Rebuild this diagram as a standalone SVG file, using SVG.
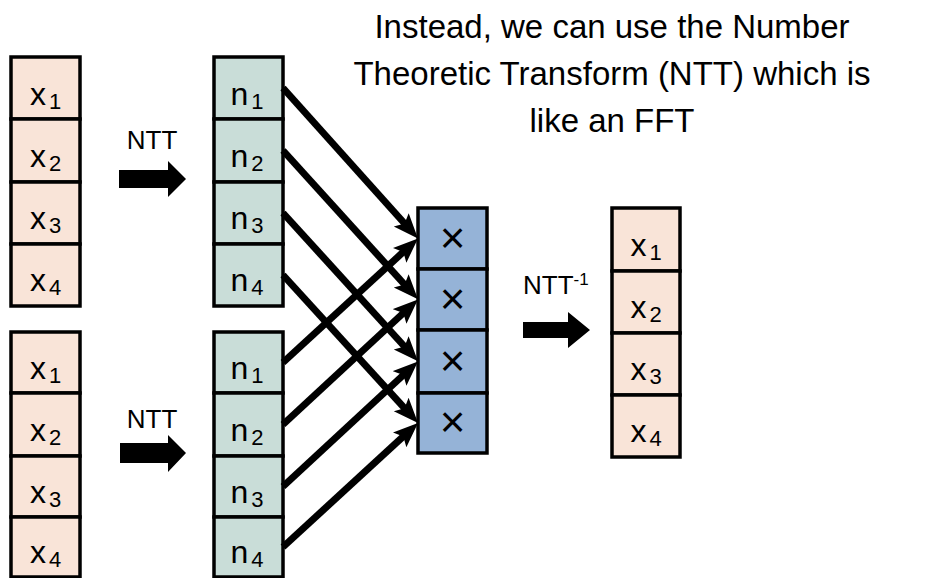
<svg xmlns="http://www.w3.org/2000/svg" width="943" height="578" viewBox="0 0 943 578">
<style>
text{font-family:"Liberation Sans",Arial,sans-serif;fill:#000}
.x{fill:#F9E4D8;stroke:#000;stroke-width:3.5}
.n{fill:#C9DDD8;stroke:#000;stroke-width:3.5}
.m{fill:#95B3D7;stroke:#000;stroke-width:3.5}
.lbl{font-size:32px;text-anchor:middle}
.sub{font-size:22px}
.mul{font-size:44px;text-anchor:middle}
.title{font-size:33px;text-anchor:middle}
.conn{stroke:#000;stroke-width:7;fill:none;marker-end:url(#ah)}
.blk{fill:#000}
</style>
<defs>
<marker id="ah" markerUnits="userSpaceOnUse" markerWidth="28" markerHeight="22" refX="11" refY="10" orient="auto">
<path d="M0,0 L25,10 L0,20 L5,10 z" fill="#000"/>
</marker>
</defs>

<g id="title">
<text class="title" x="612" y="38">Instead, we can use the Number</text>
<text class="title" x="612" y="85">Theoretic Transform (NTT) which is</text>
<text class="title" x="612" y="132">like an FFT</text>
</g>

<g id="inputA">
<g id="inputA-x1"><rect class="x" x="11" y="57" width="69" height="62"/><text class="lbl" x="45.5" y="105">x<tspan class="sub" dx="3" dy="4">1</tspan></text></g>
<g id="inputA-x2"><rect class="x" x="11" y="119" width="69" height="63"/><text class="lbl" x="45.5" y="167">x<tspan class="sub" dx="3" dy="4">2</tspan></text></g>
<g id="inputA-x3"><rect class="x" x="11" y="182" width="69" height="62"/><text class="lbl" x="45.5" y="229">x<tspan class="sub" dx="3" dy="4">3</tspan></text></g>
<g id="inputA-x4"><rect class="x" x="11" y="244" width="69" height="62"/><text class="lbl" x="45.5" y="291">x<tspan class="sub" dx="3" dy="4">4</tspan></text></g>
</g>

<g id="inputB">
<g id="inputB-x1"><rect class="x" x="11" y="332" width="69" height="61"/><text class="lbl" x="45.5" y="379">x<tspan class="sub" dx="3" dy="4">1</tspan></text></g>
<g id="inputB-x2"><rect class="x" x="11" y="393" width="69" height="63"/><text class="lbl" x="45.5" y="441">x<tspan class="sub" dx="3" dy="4">2</tspan></text></g>
<g id="inputB-x3"><rect class="x" x="11" y="456" width="69" height="61"/><text class="lbl" x="45.5" y="503">x<tspan class="sub" dx="3" dy="4">3</tspan></text></g>
<g id="inputB-x4"><rect class="x" x="11" y="517" width="69" height="60"/><text class="lbl" x="45.5" y="563">x<tspan class="sub" dx="3" dy="4">4</tspan></text></g>
</g>

<g id="nttA">
<g id="nttA-n1"><rect class="n" x="214" y="57" width="69" height="62"/><text class="lbl" x="247" y="105">n<tspan class="sub" dx="3" dy="4">1</tspan></text></g>
<g id="nttA-n2"><rect class="n" x="214" y="119" width="69" height="63"/><text class="lbl" x="247" y="167">n<tspan class="sub" dx="3" dy="4">2</tspan></text></g>
<g id="nttA-n3"><rect class="n" x="214" y="182" width="69" height="62"/><text class="lbl" x="247" y="229">n<tspan class="sub" dx="3" dy="4">3</tspan></text></g>
<g id="nttA-n4"><rect class="n" x="214" y="244" width="69" height="62"/><text class="lbl" x="247" y="291">n<tspan class="sub" dx="3" dy="4">4</tspan></text></g>
</g>

<g id="nttB">
<g id="nttB-n1"><rect class="n" x="214" y="332" width="69" height="61"/><text class="lbl" x="247" y="379">n<tspan class="sub" dx="3" dy="4">1</tspan></text></g>
<g id="nttB-n2"><rect class="n" x="214" y="393" width="69" height="63"/><text class="lbl" x="247" y="441">n<tspan class="sub" dx="3" dy="4">2</tspan></text></g>
<g id="nttB-n3"><rect class="n" x="214" y="456" width="69" height="61"/><text class="lbl" x="247" y="503">n<tspan class="sub" dx="3" dy="4">3</tspan></text></g>
<g id="nttB-n4"><rect class="n" x="214" y="517" width="69" height="60"/><text class="lbl" x="247" y="563">n<tspan class="sub" dx="3" dy="4">4</tspan></text></g>
</g>

<g id="mult">
<g id="mult-1"><rect class="m" x="418" y="208" width="69" height="61"/><text class="mul" x="452.5" y="253">×</text></g>
<g id="mult-2"><rect class="m" x="418" y="269" width="69" height="61"/><text class="mul" x="452.5" y="314">×</text></g>
<g id="mult-3"><rect class="m" x="418" y="330" width="69" height="63"/><text class="mul" x="452.5" y="376">×</text></g>
<g id="mult-4"><rect class="m" x="418" y="393" width="69" height="60"/><text class="mul" x="452.5" y="437">×</text></g>
</g>

<g id="output">
<g id="output-x1"><rect class="x" x="612" y="208" width="68" height="63"/><text class="lbl" x="646" y="256">x<tspan class="sub" dx="3" dy="4">1</tspan></text></g>
<g id="output-x2"><rect class="x" x="612" y="271" width="68" height="62"/><text class="lbl" x="646" y="318">x<tspan class="sub" dx="3" dy="4">2</tspan></text></g>
<g id="output-x3"><rect class="x" x="612" y="333" width="68" height="62"/><text class="lbl" x="646" y="380">x<tspan class="sub" dx="3" dy="4">3</tspan></text></g>
<g id="output-x4"><rect class="x" x="612" y="395" width="68" height="62"/><text class="lbl" x="646" y="442">x<tspan class="sub" dx="3" dy="4">4</tspan></text></g>
</g>

<g id="transforms">
<text x="152" y="149" font-size="26" text-anchor="middle">NTT</text>
<polygon class="blk" points="119,170 168,170 168,161 186,179 168,197 168,188 119,188"/>
<text x="152" y="428" font-size="26" text-anchor="middle">NTT</text>
<polygon class="blk" points="120,443 168,443 168,435 186,453 168,472 168,463 120,463"/>
<text x="523" y="294" font-size="26">NTT<tspan font-size="17" dy="-9">-1</tspan></text>
<polygon class="blk" points="523,322 568,322 568,312 590,330 568,348 568,338 523,338"/>
</g>

<g id="connectors">
<line class="conn" x1="283" y1="88" x2="408.6" y2="228"/>
<line class="conn" x1="283" y1="150.5" x2="408.6" y2="289"/>
<line class="conn" x1="283" y1="213" x2="408.6" y2="351"/>
<line class="conn" x1="283" y1="275" x2="408.6" y2="412.6"/>
<line class="conn" x1="283" y1="362.5" x2="407.7" y2="247.9"/>
<line class="conn" x1="283" y1="424.5" x2="407.7" y2="309"/>
<line class="conn" x1="283" y1="486.5" x2="407.7" y2="371"/>
<line class="conn" x1="283" y1="547" x2="407.7" y2="432.4"/>
</g>
</svg>
